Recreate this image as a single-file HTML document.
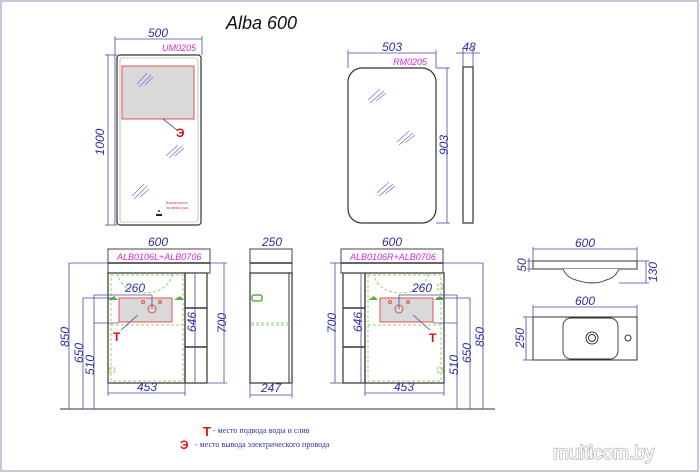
<!DOCTYPE html>
<html><head><meta charset="utf-8"><style>
html,body{margin:0;padding:0;background:#fff}
svg{display:block}
.d{stroke:#4a4aa8;stroke-width:0.8;fill:none}
.o{stroke:#333;stroke-width:1.2;fill:none}
.t{font-family:"Liberation Sans",sans-serif;font-style:italic;font-size:12px;fill:#2f2fa0}
.m{font-family:"Liberation Sans",sans-serif;font-style:italic;font-size:9px;fill:#d22ad2}
.g{stroke:#9bd06a;stroke-width:1;fill:none;stroke-dasharray:3,2}
.h{stroke:#7a7ad0;stroke-width:0.8}
</style></head><body>
<svg width="700" height="473" viewBox="0 0 700 473" xmlns="http://www.w3.org/2000/svg">
<rect x="1" y="1" width="697" height="470" fill="#fff" stroke="#b4b4d2" stroke-width="1.5"/>
<text x="226" y="29" font-family="Liberation Sans,sans-serif" font-style="italic" font-size="18" fill="#111">Alba 600</text>

<!-- Mirror 1 -->
<rect x="117" y="55" width="84" height="170" rx="3" class="o" stroke-width="2"/>
<rect x="120" y="58" width="78" height="164" rx="2" fill="none" stroke="#999" stroke-width="0.6"/>
<line x1="115" y1="39" x2="202" y2="39" class="d"/>
<line x1="115" y1="36" x2="115" y2="225" class="d"/><line x1="202" y1="36" x2="202" y2="55" class="d"/>
<line x1="105" y1="55" x2="117" y2="55" class="d"/><line x1="105" y1="225" x2="117" y2="225" class="d"/>
<line x1="108" y1="55" x2="108" y2="225" class="d"/>
<text class="t" x="158" y="37" text-anchor="middle">500</text>
<text class="m" x="162" y="51">UM0205</text>
<text class="t" transform="translate(104,142) rotate(-90)" text-anchor="middle">1000</text>
<rect x="122" y="66" width="72" height="53" fill="#d9d9d9" stroke="#e05050" stroke-width="1"/>
<line x1="163" y1="119" x2="177" y2="130" stroke="#4a4aa8" stroke-width="0.8"/>
<text x="176" y="137" font-family="Liberation Sans,sans-serif" font-weight="bold" font-size="12" fill="#e01010">Э</text>
<g class="h"><line x1="137" y1="84" x2="147" y2="73"/><line x1="139" y1="87" x2="151" y2="75"/><line x1="145" y1="85" x2="153" y2="77"/>
<line x1="166" y1="156" x2="178" y2="145"/><line x1="169" y1="158" x2="182" y2="146"/><line x1="175" y1="156" x2="184" y2="148"/>
<line x1="132" y1="196" x2="144" y2="184"/><line x1="134" y1="199" x2="147" y2="186"/><line x1="140" y1="197" x2="149" y2="189"/></g>
<text x="166" y="204" font-family="Liberation Sans,sans-serif" font-size="3.5" fill="#d04040">Выключатель</text>
<text x="166" y="209" font-family="Liberation Sans,sans-serif" font-size="3.5" fill="#d04040">на взмах руки</text>
<rect x="156" y="214" width="6" height="2" fill="#222"/><circle cx="159" cy="211" r="1" fill="#333"/>

<!-- Mirror 2 -->
<rect x="348" y="68" width="88" height="155" rx="14" class="o" stroke-width="1.6"/>
<line x1="348" y1="53" x2="436" y2="53" class="d"/>
<line x1="348" y1="50" x2="348" y2="68" class="d"/><line x1="436" y1="50" x2="436" y2="68" class="d"/>
<text class="t" x="392" y="51" text-anchor="middle">503</text>
<text class="m" x="393" y="65">RM0205</text>
<line x1="436" y1="68" x2="450" y2="68" class="d"/><line x1="436" y1="223" x2="450" y2="223" class="d"/>
<line x1="447" y1="68" x2="447" y2="223" class="d"/>
<text class="t" transform="translate(448,145) rotate(-90)" text-anchor="middle">903</text>
<rect x="463" y="67" width="10" height="156" class="o"/>
<line x1="456" y1="53" x2="480" y2="53" class="d"/><line x1="463" y1="48" x2="463" y2="67" class="d"/><line x1="473" y1="48" x2="473" y2="67" class="d"/>
<text class="t" x="469" y="51" text-anchor="middle">48</text>
<g class="h"><line x1="368" y1="100" x2="380" y2="89"/><line x1="370" y1="103" x2="384" y2="91"/><line x1="376" y1="101" x2="386" y2="93"/>
<line x1="397" y1="142" x2="409" y2="131"/><line x1="399" y1="145" x2="413" y2="133"/><line x1="405" y1="143" x2="415" y2="135"/>
<line x1="377" y1="193" x2="389" y2="182"/><line x1="379" y1="196" x2="393" y2="184"/><line x1="385" y1="194" x2="395" y2="186"/></g>

<!-- Floor -->
<line x1="60" y1="409" x2="495" y2="409" stroke="#333" stroke-width="1"/>

<!-- Cabinet 1 -->
<line x1="108" y1="249" x2="210" y2="249" class="d"/>
<text class="t" x="158" y="246" text-anchor="middle">600</text>
<rect x="108" y="249" width="102" height="24" fill="#fff" stroke="#444" stroke-width="1"/>
<line x1="108" y1="263" x2="210" y2="263" stroke="#333" stroke-width="1.4"/>
<text class="m" x="117" y="260">ALB0106L+ALB0706</text>
<rect x="108" y="273" width="77" height="110" class="o"/>
<rect x="185" y="273" width="22" height="110" class="o"/>
<line x1="185" y1="308" x2="207" y2="308" stroke="#333" stroke-width="1.5"/>
<line x1="185" y1="347" x2="207" y2="347" stroke="#333" stroke-width="1.5"/>
<line x1="195" y1="273" x2="195" y2="383" class="d"/>
<text class="t" transform="translate(196,322) rotate(-90)" text-anchor="middle">646</text>
<rect x="111" y="275" width="72" height="106" class="g"/>
<line x1="111" y1="325" x2="183" y2="325" class="g"/>
<path d="M118 273 A27 20 0 0 0 172 273" class="g" stroke-dasharray="none"/>
<circle cx="112" cy="370" r="3" class="g" stroke-dasharray="none"/>
<rect x="119" y="298" width="53" height="24" fill="#d9d9d9" stroke="#e05050"/>
<circle cx="152" cy="309" r="4" fill="none" stroke="#e05050"/>
<circle cx="143" cy="302" r="1.5" fill="none" stroke="#e05050"/><circle cx="160" cy="302" r="1.5" fill="none" stroke="#e05050"/>
<path d="M108 300 l6 -4 l4 4 z M174 300 l6 -4 l4 4 z" fill="#5cb040"/>
<line x1="94" y1="295" x2="152" y2="295" class="d"/><line x1="152" y1="295" x2="152" y2="309" class="d"/>
<text class="t" x="135" y="292" text-anchor="middle">260</text>
<line x1="138" y1="315" x2="121" y2="330" class="d"/>
<text x="113" y="341" font-family="Liberation Sans,sans-serif" font-weight="bold" font-size="12" fill="#e01010">T</text>
<line x1="108" y1="393" x2="185" y2="393" class="d"/><line x1="108" y1="383" x2="108" y2="396" class="d"/><line x1="185" y1="383" x2="185" y2="396" class="d"/>
<text class="t" x="147" y="391" text-anchor="middle">453</text>
<line x1="210" y1="263" x2="227" y2="263" class="d"/><line x1="207" y1="383" x2="227" y2="383" class="d"/>
<line x1="224" y1="263" x2="224" y2="383" class="d"/>
<text class="t" transform="translate(226,323) rotate(-90)" text-anchor="middle">700</text>
<line x1="69" y1="263" x2="108" y2="263" class="d"/><line x1="69" y1="263" x2="69" y2="409" class="d"/>
<text class="t" transform="translate(69,337) rotate(-90)" text-anchor="middle">850</text>
<line x1="83" y1="298" x2="112" y2="298" class="d"/><line x1="83" y1="298" x2="83" y2="409" class="d"/>
<text class="t" transform="translate(83,353) rotate(-90)" text-anchor="middle">650</text>
<line x1="94" y1="323" x2="119" y2="323" class="d"/><line x1="94" y1="295" x2="94" y2="409" class="d"/>
<text class="t" transform="translate(94,365) rotate(-90)" text-anchor="middle">510</text>

<!-- Side view -->
<line x1="250" y1="249" x2="292" y2="249" class="d"/>
<text class="t" x="272" y="246" text-anchor="middle">250</text>
<rect x="250" y="249" width="42" height="24" fill="#fff" stroke="#444"/>
<line x1="250" y1="263" x2="292" y2="263" stroke="#333" stroke-width="1.4"/>
<rect x="250" y="273" width="42" height="110" class="o"/>
<line x1="289" y1="273" x2="289" y2="383" stroke="#333"/>
<line x1="251" y1="325" x2="289" y2="325" class="g"/><line x1="251" y1="323" x2="289" y2="323" class="g"/>
<rect x="252" y="295" width="10" height="6" rx="2" fill="none" stroke="#5cb040" stroke-width="1.5"/>
<line x1="250" y1="395" x2="292" y2="395" class="d"/><line x1="250" y1="383" x2="250" y2="398" class="d"/><line x1="292" y1="383" x2="292" y2="398" class="d"/>
<text class="t" x="271" y="392" text-anchor="middle">247</text>

<!-- Cabinet 2 -->
<line x1="341" y1="249" x2="443" y2="249" class="d"/>
<text class="t" x="392" y="246" text-anchor="middle">600</text>
<rect x="341" y="249" width="102" height="24" fill="#fff" stroke="#444"/>
<line x1="341" y1="263" x2="443" y2="263" stroke="#333" stroke-width="1.4"/>
<text class="m" x="350" y="260">ALB0106R+ALB0706</text>
<rect x="343" y="273" width="22" height="110" class="o"/>
<rect x="365" y="273" width="79" height="110" class="o"/>
<line x1="343" y1="308" x2="365" y2="308" stroke="#333" stroke-width="1.5"/>
<line x1="343" y1="347" x2="365" y2="347" stroke="#333" stroke-width="1.5"/>
<line x1="361" y1="273" x2="361" y2="383" class="d"/>
<text class="t" transform="translate(362,322) rotate(-90)" text-anchor="middle">646</text>
<line x1="330" y1="263" x2="341" y2="263" class="d"/><line x1="330" y1="383" x2="343" y2="383" class="d"/>
<line x1="335" y1="263" x2="335" y2="383" class="d"/>
<text class="t" transform="translate(336,323) rotate(-90)" text-anchor="middle">700</text>
<rect x="368" y="275" width="73" height="106" class="g"/>
<line x1="368" y1="325" x2="441" y2="325" class="g"/>
<path d="M374 273 A27 20 0 0 0 428 273" class="g" stroke-dasharray="none"/>
<circle cx="440" cy="287" r="3" class="g" stroke-dasharray="none"/>
<circle cx="440" cy="370" r="3" class="g" stroke-dasharray="none"/>
<rect x="380" y="298" width="53" height="24" fill="#d9d9d9" stroke="#e05050"/>
<circle cx="399" cy="309" r="4" fill="none" stroke="#e05050"/>
<circle cx="390" cy="302" r="1.5" fill="none" stroke="#e05050"/><circle cx="408" cy="302" r="1.5" fill="none" stroke="#e05050"/>
<path d="M368 300 l6 -4 l4 4 z M434 300 l6 -4 l4 4 z" fill="#5cb040"/>
<line x1="399" y1="295" x2="457" y2="295" class="d"/><line x1="399" y1="295" x2="399" y2="309" class="d"/>
<text class="t" x="422" y="292" text-anchor="middle">260</text>
<line x1="413" y1="315" x2="430" y2="330" class="d"/>
<text x="429" y="342" font-family="Liberation Sans,sans-serif" font-weight="bold" font-size="12" fill="#e01010">T</text>
<line x1="365" y1="393" x2="444" y2="393" class="d"/><line x1="365" y1="383" x2="365" y2="396" class="d"/><line x1="444" y1="383" x2="444" y2="396" class="d"/>
<text class="t" x="404" y="391" text-anchor="middle">453</text>
<line x1="443" y1="263" x2="483" y2="263" class="d"/><line x1="483" y1="263" x2="483" y2="409" class="d"/>
<text class="t" transform="translate(484,337) rotate(-90)" text-anchor="middle">850</text>
<line x1="436" y1="298" x2="470" y2="298" class="d"/><line x1="470" y1="298" x2="470" y2="409" class="d"/>
<text class="t" transform="translate(471,353) rotate(-90)" text-anchor="middle">650</text>
<line x1="433" y1="323" x2="457" y2="323" class="d"/><line x1="457" y1="295" x2="457" y2="409" class="d"/>
<text class="t" transform="translate(458,365) rotate(-90)" text-anchor="middle">510</text>

<!-- Sink side -->
<line x1="533" y1="249" x2="637" y2="249" class="d"/><line x1="533" y1="247" x2="533" y2="261" class="d"/><line x1="637" y1="247" x2="637" y2="261" class="d"/>
<text class="t" x="585" y="247" text-anchor="middle">600</text>
<rect x="533" y="261" width="104" height="8" fill="#fff" stroke="#333"/>
<path d="M563 269 Q567 278 576 280 Q585 283 592 283 Q600 283 606 280 Q615 278 619 269" fill="#fff" stroke="#333" stroke-width="0.9"/>
<line x1="527" y1="261" x2="533" y2="261" class="d"/><line x1="527" y1="269" x2="533" y2="269" class="d"/><line x1="529" y1="258" x2="529" y2="272" class="d"/>
<text class="t" transform="translate(526,265) rotate(-90)" text-anchor="middle">50</text>
<line x1="637" y1="261" x2="649" y2="261" class="d"/><line x1="619" y1="283" x2="649" y2="283" class="d"/><line x1="646" y1="261" x2="646" y2="283" class="d"/>
<text class="t" transform="translate(657,272) rotate(-90)" text-anchor="middle">130</text>
<!-- Sink top -->
<line x1="533" y1="307" x2="637" y2="307" class="d"/><line x1="533" y1="305" x2="533" y2="317" class="d"/><line x1="637" y1="305" x2="637" y2="317" class="d"/>
<text class="t" x="585" y="305" text-anchor="middle">600</text>
<rect x="533" y="317" width="104" height="43" fill="#fff" stroke="#333"/>
<rect x="563" y="318" width="55" height="41" rx="8" fill="none" stroke="#333" stroke-width="0.9"/>
<circle cx="592" cy="338" r="6" fill="none" stroke="#333"/><circle cx="592" cy="338" r="3.5" fill="none" stroke="#333"/>
<circle cx="628" cy="338" r="3" fill="none" stroke="#333"/>
<line x1="523" y1="317" x2="533" y2="317" class="d"/><line x1="523" y1="360" x2="533" y2="360" class="d"/><line x1="526" y1="317" x2="526" y2="360" class="d"/>
<text class="t" transform="translate(524,338) rotate(-90)" text-anchor="middle">250</text>

<!-- Legend -->
<text x="203" y="436" font-family="Liberation Sans,sans-serif" font-weight="bold" font-size="13" fill="#e01010">T</text>
<text x="213" y="433" font-family="Liberation Serif,serif" font-size="8" fill="#3030a0">- место подвода воды и слив</text>
<text x="180" y="449" font-family="Liberation Sans,sans-serif" font-weight="bold" font-size="12" fill="#e01010">Э</text>
<text x="195" y="447" font-family="Liberation Serif,serif" font-size="8" fill="#3030a0">- место вывода электрического провода</text>
<text x="553" y="459" font-family="Liberation Sans,sans-serif" font-size="19" fill="#fff" stroke="#bbb" stroke-width="1.6" paint-order="stroke">multicom.by</text>
</svg>
</body></html>
